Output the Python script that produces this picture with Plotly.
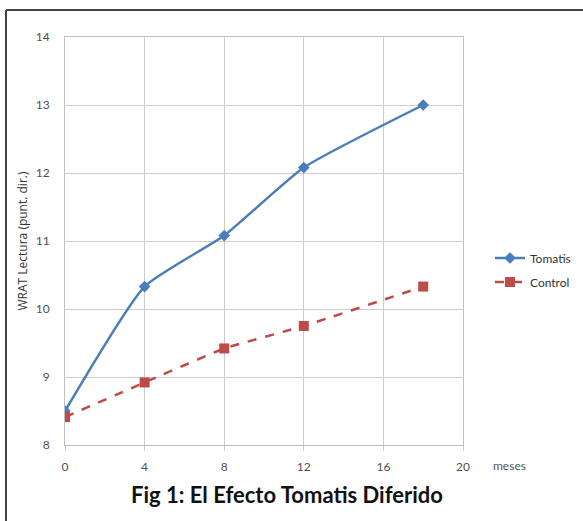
import plotly.graph_objects as go

months = [0, 4, 8, 12, 18]
tomatis = [8.5, 10.33, 11.08, 12.08, 13.0]
control = [8.41, 8.92, 9.42, 9.75, 10.33]
x_ticks = [0, 4, 8, 12, 16, 20]
y_ticks = [8, 9, 10, 11, 12, 13, 14]

W, H = 583, 521
L, R, T, B = 65, 463, 37, 445
pw, ph = R - L, B - T

def px(xp):
    return (xp - L) / pw

def py(yp):
    return (B - yp) / ph

fig = go.Figure()
fig.add_trace(go.Scatter(
    x=months, y=tomatis, name="Tomatis", mode="lines+markers", legendgroup="t",
    line=dict(color="#4A7EBB", width=2.5, shape="spline", smoothing=0.5),
    marker=dict(symbol="diamond", size=9, color="#4A7EBB"),
))
fig.add_trace(go.Scatter(
    x=months, y=control, name="Control", mode="lines+markers", legendgroup="c",
    line=dict(color="#BE4B48", width=2.5, dash="dash", shape="spline", smoothing=0.3),
    marker=dict(symbol="square", size=10, color="#BE4B48"),
))

axis_font = dict(family="Lato, Open Sans, sans-serif", size=12, color="#505050")
fig.update_xaxes(
    range=[0, 20], tickvals=x_ticks, showgrid=True, gridcolor="#CCCCCC", gridwidth=1,
    showline=True, linecolor="#C0C0C0", mirror=True, zeroline=False,
    ticks="outside", ticklen=5, tickcolor="#C8C8C8", tickfont=axis_font, automargin=False,
    ticklabelstandoff=6,
)
fig.update_yaxes(
    range=[8, 14], tickvals=y_ticks, showgrid=True, gridcolor="#CCCCCC", gridwidth=1,
    showline=True, linecolor="#C0C0C0", mirror=True, zeroline=False,
    ticks="", tickfont=axis_font, automargin=False, ticklabelstandoff=12,
    title=dict(text="WRAT Lectura (punt. dir.)",
               font=dict(family="Open Sans, sans-serif", size=12, color="#333333"), standoff=5),
)

fig.add_annotation(x=px(510), y=py(465), xref="paper", yref="paper", text="meses",
                   showarrow=False, xanchor="center", yanchor="middle",
                   font=dict(family="Lato, Open Sans, sans-serif", size=12, color="#555555"))
fig.add_annotation(x=px(287), y=py(494), xref="paper", yref="paper",
                   text="<b>Fig 1: El Efecto Tomatis Diferido</b>",
                   showarrow=False, xanchor="center", yanchor="middle",
                   font=dict(family="Lato, Open Sans, sans-serif", size=22, color="#111111"))

fig.add_shape(type="line", xref="paper", yref="paper", x0=px(6), x1=px(583), y0=py(10), y1=py(10),
              line=dict(color="#444444", width=2))
fig.add_shape(type="line", xref="paper", yref="paper", x0=px(6), x1=px(6), y0=py(10), y1=py(521),
              line=dict(color="#444444", width=2))

fig.update_layout(
    width=W, height=H, margin=dict(l=L, r=W - R, t=T, b=H - B, autoexpand=False),
    paper_bgcolor="white", plot_bgcolor="white",
    showlegend=True,
    legend=dict(x=px(490), y=py(270), xanchor="left", yanchor="middle",
                font=dict(family="Lato, Open Sans, sans-serif", size=12, color="#333333"),
                tracegroupgap=5, itemwidth=30, bgcolor="rgba(0,0,0,0)"),
)

fig.write_html("out.html", config={"displayModeBar": False},
               post_script="document.body.style.margin='0';")
